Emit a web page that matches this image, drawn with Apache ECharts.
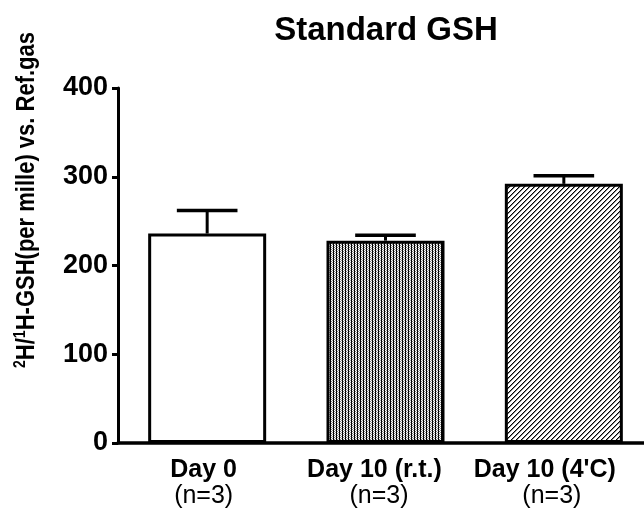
<!DOCTYPE html>
<html>
<head>
<meta charset="utf-8">
<script src="https://cdn.jsdelivr.net/npm/echarts@6/dist/echarts.min.js"></script>
<style>
html,body{margin:0;padding:0;background:#fff;}
#chart{width:644px;height:517px;}
</style>
</head>
<body>
<div id="chart"></div>
<script>
// ---- data ----
const categories = ['Day 0', 'Day 10 (r.t.)', "Day 10 (4'C)"];
const sampleSizes = ['(n=3)', '(n=3)', '(n=3)'];
const means = [236, 228, 292];
const errors = [26, 6, 9];
const yTicks = [0, 100, 200, 300, 400];
const chartTitle = 'Standard GSH';

// ---- patterns ----
function makeTile(w, h, fn) {
  const c = document.createElement('canvas');
  c.width = w; c.height = h;
  const ctx = c.getContext('2d');
  for (let x = 0; x < w; x++) for (let y = 0; y < h; y++) {
    ctx.fillStyle = fn(x, y);
    ctx.fillRect(x, y, 1, 1);
  }
  return c;
}
const densePattern = makeTile(3, 2, (x, y) => {
  if (x === 0) return '#000';
  if (x === 1) return y === 0 ? '#fff' : '#808080';
  return y === 0 ? '#9a9a9a' : '#fff';
});
const hatchPattern = makeTile(5, 5, (x, y) => {
  const k = (x + y) % 5;
  return k === 0 ? '#000' : (k === 1 ? '#888' : '#fff');
});
const fills = ['#ffffff', { image: densePattern, repeat: 'repeat' }, { image: hatchPattern, repeat: 'repeat' }];
const labelShift = [[7, 7], [22, 13], [38, 24]];

const FONT = 'Arial, "Liberation Sans", Helvetica, sans-serif';

const rich = {};
categories.forEach((c, i) => {
  rich['b' + i] = { fontFamily: FONT, fontWeight: 'bold', fontSize: 25, color: '#000', lineHeight: 26, padding: [0, labelShift[i][0], 0, 0] };
  rich['n' + i] = { fontFamily: FONT, fontWeight: 'normal', fontSize: 25, color: '#000', lineHeight: 26, padding: [0, labelShift[i][1], 0, 0] };
});

const chart = echarts.init(document.getElementById('chart'), null, { renderer: 'canvas' });
chart.setOption({
  animation: false,
  backgroundColor: '#fff',
  grid: { left: 118, width: 535, top: 88, bottom: 74, containLabel: false, outerBoundsMode: 'none' },
  graphic: [
    {
      type: 'text', x: 386, y: 31,
      style: { text: chartTitle, fontFamily: FONT, fontWeight: 'bold', fontSize: 33, fill: '#000', align: 'center', verticalAlign: 'middle' }
    },
    {
      type: 'text', x: 27, y: 200, rotation: Math.PI / 2, scaleX: 0.88,
      style: {
        text: '{s|2}{m|H/}{s|1}{m|H-GSH(per mille) vs. Ref.gas}',
        align: 'center', verticalAlign: 'middle',
        rich: {
          m: { fontFamily: FONT, fontWeight: 'bold', fontSize: 25, fill: '#000', lineHeight: 28 },
          s: { fontFamily: FONT, fontWeight: 'bold', fontSize: 16, fill: '#000', lineHeight: 28, verticalAlign: 'top', padding: [0, 0, 10, 0] }
        }
      }
    }
  ],
  xAxis: {
    type: 'category',
    data: categories,
    axisLine: { show: true, lineStyle: { color: '#000', width: 3.5 } },
    axisTick: { show: false },
    axisLabel: {
      margin: 14,
      interval: 0,
      formatter: (v, i) => '{b' + i + '|' + v + '}\n{n' + i + '|' + sampleSizes[i] + '}',
      rich: rich
    },
    splitLine: { show: false }
  },
  yAxis: {
    type: 'value',
    min: yTicks[0], max: yTicks[yTicks.length - 1], interval: 100,
    axisLine: { show: true, lineStyle: { color: '#000', width: 3 } },
    axisTick: { show: true, length: 6, lineStyle: { color: '#000', width: 3 } },
    axisLabel: { margin: 10, fontFamily: FONT, fontWeight: 'bold', fontSize: 27, color: '#000' },
    splitLine: { show: false }
  },
  series: [
    {
      type: 'bar',
      barWidth: 118,
      data: means.map((v, i) => ({ value: v, itemStyle: { color: fills[i] } })),
      itemStyle: { borderColor: '#000', borderWidth: 3 },
      z: 2
    },
    {
      type: 'custom',
      z: 3,
      data: means.map((m, i) => [i, m, m + errors[i]]),
      renderItem: function (params, api) {
        const i = api.value(0);
        const base = api.coord([i, api.value(1)]);
        const top = api.coord([i, api.value(2)]);
        const half = api.size([1, 0])[0] * 0.17;
        return {
          type: 'group',
          children: [
            { type: 'line', shape: { x1: base[0], y1: base[1], x2: top[0], y2: top[1] }, style: { stroke: '#000', lineWidth: 3 } },
            { type: 'line', shape: { x1: top[0] - half, y1: top[1], x2: top[0] + half, y2: top[1] }, style: { stroke: '#000', lineWidth: 3.5 } }
          ]
        };
      }
    }
  ]
});
</script>
</body>
</html>
